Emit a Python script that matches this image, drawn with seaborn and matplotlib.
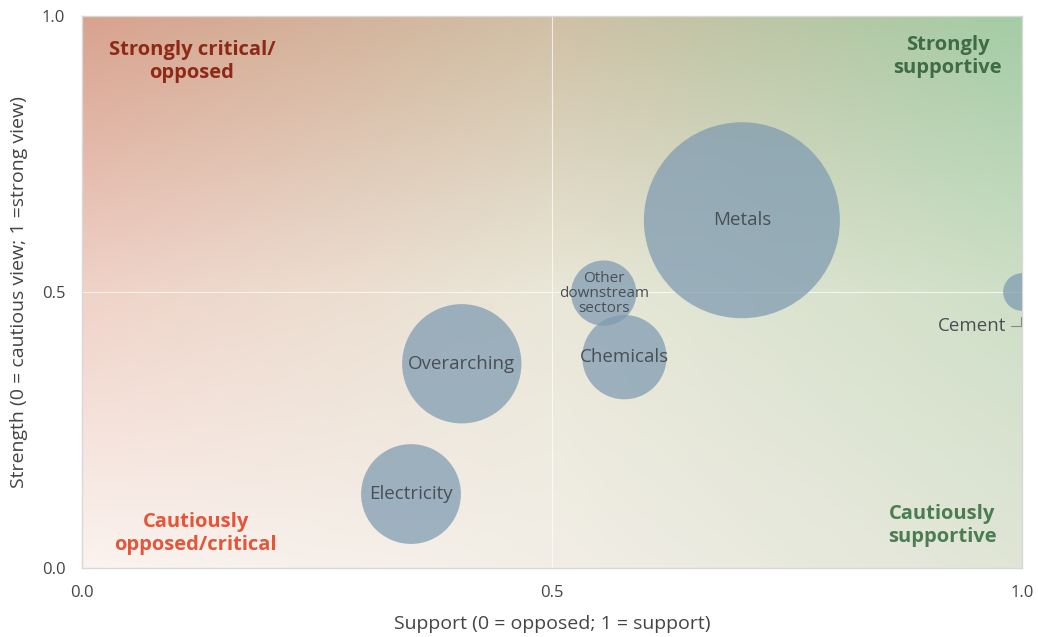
import numpy as np
import pandas as pd
import matplotlib
matplotlib.use("Agg")
import matplotlib.pyplot as plt
import seaborn as sns

# Sector positions: support (x), strength of view (y), number of responses (bubble area)
sectors = ["Metals", "Overarching", "Electricity", "Chemicals", "Other\ndownstream\nsectors", "Cement"]
support = [0.702, 0.404, 0.350, 0.577, 0.555, 1.0]
strength = [0.630, 0.370, 0.134, 0.382, 0.498, 0.500]
responses = [27, 10, 7, 5, 3, 1]

x_ticks = [0.0, 0.5, 1.0]
y_ticks = [0.0, 0.5, 1.0]

df = pd.DataFrame({"sector": sectors, "support": support,
                   "strength": strength, "responses": responses})

sns.set_theme(style="white")
plt.rcParams["font.family"] = ["Open Sans", "DejaVu Sans"]

fig = plt.figure(figsize=(10.38, 6.37), dpi=100)
ax = fig.add_axes([0.079, 0.1083, 0.9056, 0.8666])

# Quadrant background: red (critical) to green (supportive), fading to white at the cautious end
ctrl = np.array([
    [[251, 243, 239], [242, 238, 230], [224, 229, 214]],   # strength 0
    [[240, 210, 200], [233, 231, 216], [206, 223, 199]],   # strength 0.5
    [[216, 162, 142], [208, 192, 165], [163, 205, 165]],   # strength 1
], dtype=float) / 255.0
n = 300
gx = np.linspace(0, 1, n)
cp = np.array([0.0, 0.5, 1.0])
rows = np.stack([np.stack([np.interp(gx, cp, ctrl[r, :, c]) for c in range(3)], axis=-1)
                 for r in range(3)])  # 3 x n x 3
img = np.empty((n, n, 3))
for j in range(n):
    for c in range(3):
        img[:, j, c] = np.interp(gx, cp, rows[:, j, c])
ax.imshow(img, origin="lower", extent=(0, 1, 0, 1), aspect="auto",
          interpolation="bicubic", zorder=0)

# Mid-lines
ax.axvline(0.5, color="white", lw=0.8, alpha=0.7, zorder=1)
ax.axhline(0.5, color="white", lw=0.8, alpha=0.7, zorder=1)

s_max = (2 * 98 * 0.72) ** 2
sns.scatterplot(data=df, x="support", y="strength", size="responses",
                sizes=(0, s_max), size_norm=(0, max(responses)),
                color="#7d9ab1", alpha=0.72, edgecolor="none",
                legend=False, ax=ax, zorder=3, clip_on=True)

label_color = "#4a4f55"
for name, xv, yv in zip(sectors, support, strength):
    if name == "Cement":
        continue
    fs = 11 if "\n" in name else 13.5
    ax.text(xv, yv, name, ha="center", va="center", fontsize=fs,
            color=label_color, zorder=5, linespacing=1.0)

# Cement sits on the edge; label it with a short leader
ax.text(0.983, 0.438, "Cement", ha="right", va="center", fontsize=13.5,
        color=label_color, zorder=5)
ax.plot([0.988, 0.999, 0.999], [0.438, 0.438, 0.455], color="#888888",
        lw=0.8, zorder=5, clip_on=False)

# Quadrant labels
qkw = dict(ha="center", va="center", fontsize=14.5, fontweight="bold",
           linespacing=1.2, zorder=6)
ax.text(0.117, 0.918, "Strongly critical/\nopposed", color="#8c2a17", **qkw)
ax.text(0.921, 0.927, "Strongly\nsupportive", color="#3f6b45", **qkw)
ax.text(0.121, 0.063, "Cautiously\nopposed/critical", color="#e5553a", **qkw)
ax.text(0.915, 0.077, "Cautiously\nsupportive", color="#4b7d52", **qkw)

ax.set_xlim(0, 1)
ax.set_ylim(0, 1)
ax.set_xticks(x_ticks)
ax.set_yticks(y_ticks)
ax.set_xticklabels([f"{v:.1f}" for v in x_ticks])
ax.set_yticklabels([f"{v:.1f}" for v in y_ticks])
ax.tick_params(length=0, labelsize=12, labelcolor="#444444", pad=12)
ax.set_xlabel("Support (0 = opposed; 1 = support)", fontsize=14,
              color="#444444", labelpad=10)
ax.set_ylabel("Strength (0 = cautious view; 1 =strong view)", fontsize=14,
              color="#444444", labelpad=10)
for sp in ax.spines.values():
    sp.set_color("#d8d8d8")
    sp.set_linewidth(1.0)

fig.savefig("out.png", dpi=100)
